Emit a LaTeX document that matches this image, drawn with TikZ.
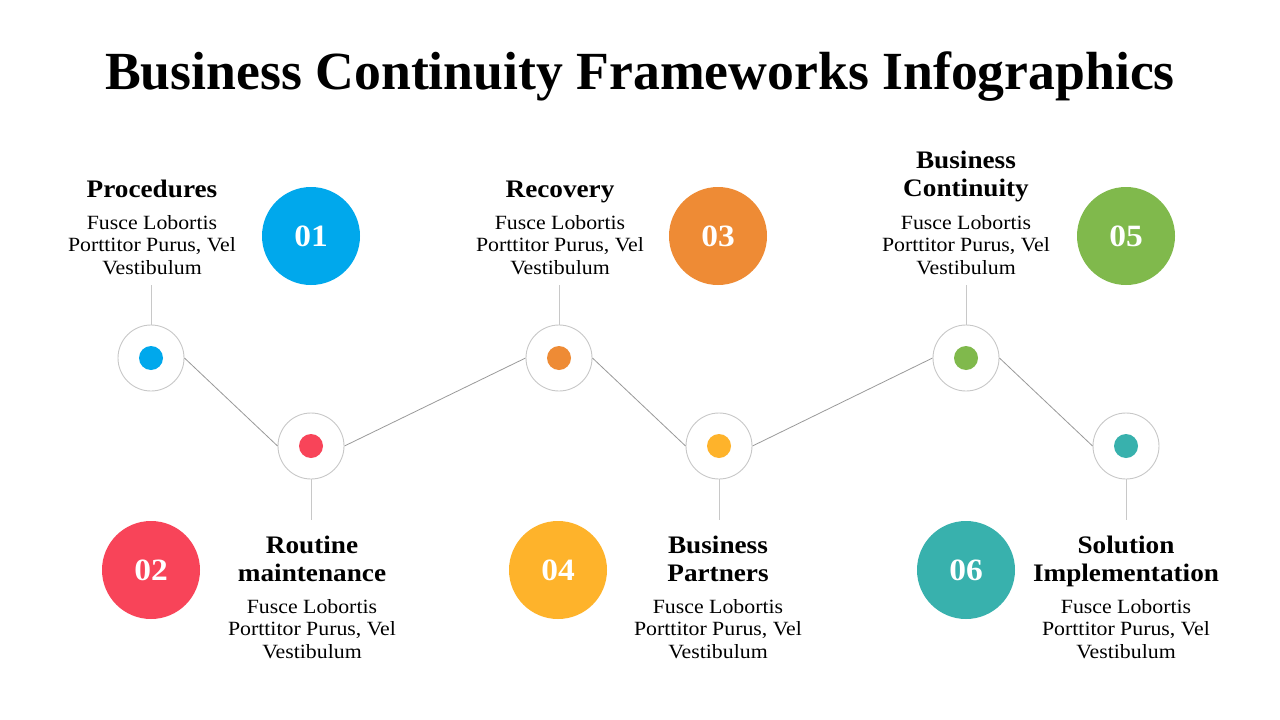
\documentclass[tikz,border=0pt]{standalone}
\usepackage{fontspec}
\setmainfont{Liberation Serif}
\newfontfamily\widefont[FakeStretch=1.08]{Liberation Serif}
\definecolor{cblue}{HTML}{00A8EC}
\definecolor{cred}{HTML}{F84459}
\definecolor{corange}{HTML}{EE8B35}
\definecolor{cyellow}{HTML}{FEB32B}
\definecolor{cgreen}{HTML}{80B94C}
\definecolor{cteal}{HTML}{38B1AD}
\definecolor{ringgray}{HTML}{C8C8C8}
\definecolor{linegray}{HTML}{9A9A9A}
\begin{document}
\begin{tikzpicture}[x=1pt,y=-1pt,
  ring/.style={circle,draw=ringgray,line width=0.9pt,fill=white,minimum size=66pt,inner sep=0pt},
  dot/.style={circle,fill=#1,minimum size=24pt,inner sep=0pt},
  bignum/.style={circle,fill=#1,minimum size=98pt,inner sep=0pt,text=white,font=\widefont\fontsize{31}{31}\selectfont\bfseries},
  conn/.style={draw=linegray,line width=0.8pt},
  stem/.style={draw=ringgray,line width=0.9pt},
  head/.style={anchor=base,inner sep=0pt,font=\widefont\fontsize{25.2}{25.2}\selectfont\bfseries},
  body/.style={anchor=base,inner sep=0pt,font=\widefont\fontsize{20.2}{20.2}\selectfont}]
\useasboundingbox (0,0) rectangle (1280,720);
\fill[white] (0,0) rectangle (1280,720);
\node[anchor=base,inner sep=0pt,font=\fontsize{53.7}{53.7}\selectfont\bfseries] (title) at (640,89) {Business Continuity Frameworks Infographics};

\node[ring] (r1) at (151,358) {};
\node[ring] (r2) at (311,446) {};
\node[ring] (r3) at (559,358) {};
\node[ring] (r4) at (719,446) {};
\node[ring] (r5) at (966,358) {};
\node[ring] (r6) at (1126,446) {};
\draw[conn] (r1.east) -- (r2.west);
\draw[conn] (r2.east) -- (r3.west);
\draw[conn] (r3.east) -- (r4.west);
\draw[conn] (r4.east) -- (r5.west);
\draw[conn] (r5.east) -- (r6.west);
\coordinate (s1) at (151,285);
\coordinate (s3) at (559,285);
\coordinate (s5) at (966,285);
\coordinate (s2) at (311,520);
\coordinate (s4) at (719,520);
\coordinate (s6) at (1126,520);
\draw[stem] (r1) -- (s1);
\draw[stem] (r3) -- (s3);
\draw[stem] (r5) -- (s5);
\draw[stem] (r2) -- (s2);
\draw[stem] (r4) -- (s4);
\draw[stem] (r6) -- (s6);
\node[dot=cblue] (d1) at (r1) {};
\node[dot=cred] (d2) at (r2) {};
\node[dot=corange] (d3) at (r3) {};
\node[dot=cyellow] (d4) at (r4) {};
\node[dot=cgreen] (d5) at (r5) {};
\node[dot=cteal] (d6) at (r6) {};

\node[bignum=cblue] (n1) at (311,236) {01};
\node[bignum=cred] (n2) at (151,570) {02};
\node[bignum=corange] (n3) at (718,236) {03};
\node[bignum=cyellow] (n4) at (558,570) {04};
\node[bignum=cgreen] (n5) at (1126,236) {05};
\node[bignum=cteal] (n6) at (966,570) {06};

\node[head] (h1) at (152,197.5) {Procedures};
\node[head] (h3) at (560,197.5) {Recovery};
\node[head] (h5a) at (966,168) {Business};
\node[head] (h5b) at (966,196) {Continuity};
\foreach \x/\n in {152/1,560/3,966/5}{
  \node[body] (b\n a) at (\x,229) {Fusce Lobortis};
  \node[body] (b\n b) at (\x,251.5) {Porttitor Purus, Vel};
  \node[body] (b\n c) at (\x,274) {Vestibulum};
}
\node[head] (h2a) at (312,553) {Routine};
\node[head] (h2b) at (312,581) {maintenance};
\node[head] (h4a) at (718,553) {Business};
\node[head] (h4b) at (718,581) {Partners};
\node[head] (h6a) at (1126,553) {Solution};
\node[head] (h6b) at (1126,581) {Implementation};
\foreach \x/\n in {312/2,718/4,1126/6}{
  \node[body] (b\n a) at (\x,613) {Fusce Lobortis};
  \node[body] (b\n b) at (\x,635.5) {Porttitor Purus, Vel};
  \node[body] (b\n c) at (\x,658) {Vestibulum};
}
\end{tikzpicture}
\end{document}
